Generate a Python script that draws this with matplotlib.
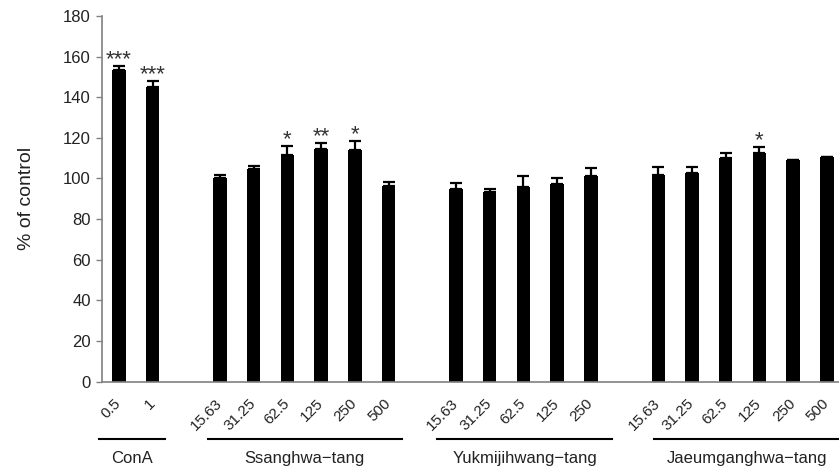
import numpy as np
import matplotlib
matplotlib.use("Agg")
import matplotlib.pyplot as plt
import matplotlib.transforms as mtransforms

plt.rcParams['font.family'] = ['Liberation Sans', 'DejaVu Sans']

# groups: name, dose labels, means, upper errors, significance marks
conA_doses = ["0.5", "1"]
conA_mean = [153.5, 145.2]
conA_err = [1.9, 2.8]
conA_sig = ["***", "***"]

ssang_doses = ["15.63", "31.25", "62.5", "125", "250", "500"]
ssang_mean = [100.3, 104.8, 111.4, 114.7, 114.2, 96.5]
ssang_err = [1.5, 1.2, 4.6, 2.8, 4.1, 1.7]
ssang_sig = ["", "", "*", "**", "*", ""]

yukmi_doses = ["15.63", "31.25", "62.5", "125", "250"]
yukmi_mean = [94.9, 93.2, 95.7, 97.4, 101.2]
yukmi_err = [2.8, 1.7, 5.3, 2.8, 3.9]
yukmi_sig = ["", "", "", "", ""]

jaeum_doses = ["15.63", "31.25", "62.5", "125", "250", "500"]
jaeum_mean = [101.8, 102.7, 110.1, 112.7, 109.3, 110.7]
jaeum_err = [4.0, 3.1, 2.5, 2.7, 0, 0]
jaeum_sig = ["", "", "", "*", "", ""]

group_names = ["ConA", "Ssanghwa\u2212tang", "Yukmijihwang\u2212tang", "Jaeumganghwa\u2212tang"]
groups = [
    (conA_doses, conA_mean, conA_err, conA_sig),
    (ssang_doses, ssang_mean, ssang_err, ssang_sig),
    (yukmi_doses, yukmi_mean, yukmi_err, yukmi_sig),
    (jaeum_doses, jaeum_mean, jaeum_err, jaeum_sig),
]
# bracket line extents under each group (in slot units)
line_spans = [(-0.59, 1.36), (2.64, 8.39), (9.45, 14.64), (15.88, 21.4)]

fig = plt.figure(figsize=(8.39, 4.68), dpi=100)
ax = fig.add_axes([0.1216, 0.1844, 1.0 - 0.1216, 0.966 - 0.1844])

pos = []
labels = []
means = []
errs = []
sigs = []
slot = 0
for doses, m, e, s in groups:
    for i in range(len(doses)):
        pos.append(slot)
        slot += 1
    labels += doses
    means += m
    errs += e
    sigs += s
    slot += 1  # empty slot between groups

pos = np.array(pos)
means = np.array(means)
errs = np.array(errs)

ax.bar(pos, means, width=0.4, color='black', zorder=2)
ax.errorbar(pos, means, yerr=[np.zeros_like(errs), errs], fmt='none',
            ecolor='black', elinewidth=1.6, capsize=4, capthick=1.6, zorder=3)

for x, m, e, s in zip(pos, means, errs, sigs):
    if s:
        ax.text(x, m + e + 0.3, s, ha='center', va='baseline',
                fontsize=16, color='#333333')

ax.set_xlim(-0.5, 21.36)
ax.set_ylim(0, 180)
ax.set_yticks(np.arange(0, 181, 20))
ax.set_xticks(pos)
ax.set_xticklabels(labels, rotation=45, ha='right', va='center',
                   rotation_mode='anchor', fontsize=11, color='#222222')
ax.tick_params(axis='x', length=0, pad=14)
ax.tick_params(axis='y', length=4, width=1, color='#808080', labelsize=12,
               labelcolor='#222222', pad=4)

for side in ['top', 'right']:
    ax.spines[side].set_visible(False)
for side in ['left', 'bottom']:
    ax.spines[side].set_color('#808080')
    ax.spines[side].set_linewidth(1.2)

ax.set_ylabel("% of control", fontsize=14, color='#222222', labelpad=20)

trans = mtransforms.blended_transform_factory(ax.transData, ax.transAxes)
for name, (x0, x1) in zip(group_names, line_spans):
    ax.plot([x0, x1], [-0.158, -0.158], color='black', lw=1.5,
            transform=trans, clip_on=False)
    ax.text((x0 + x1) / 2, -0.21, name, ha='center', va='center',
            fontsize=12, color='#222222', transform=trans)

fig.savefig("out.png", dpi=100)
